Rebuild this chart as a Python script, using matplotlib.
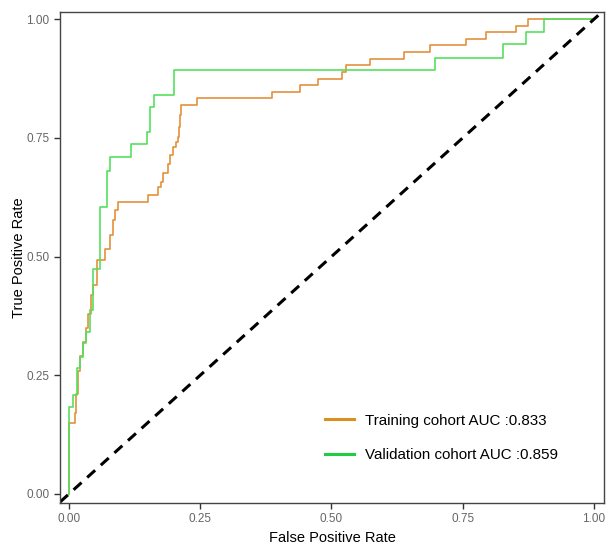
import matplotlib
matplotlib.use("Agg")
import matplotlib.pyplot as plt

plt.rcParams['font.family'] = ['Liberation Sans', 'DejaVu Sans']

# ROC points (false positive rate, true positive rate)
train_fpr = [0, 0, 0.011, 0.014, 0.018, 0.022, 0.027, 0.032, 0.036, 0.042, 0.046, 0.054,
             0.069, 0.078, 0.084, 0.088, 0.094, 0.151, 0.170, 0.175, 0.180, 0.188, 0.193,
             0.199, 0.204, 0.207, 0.210, 0.212, 0.214, 0.244, 0.387, 0.441, 0.475, 0.520,
             0.528, 0.573, 0.639, 0.688, 0.756, 0.794, 0.851, 0.875, 1.0]
train_tpr = [0, 0.15, 0.17, 0.21, 0.26, 0.29, 0.32, 0.35, 0.38, 0.42, 0.44, 0.493,
             0.517, 0.545, 0.577, 0.598, 0.615, 0.629, 0.647, 0.658, 0.675, 0.696, 0.714,
             0.731, 0.742, 0.752, 0.773, 0.798, 0.819, 0.833, 0.847, 0.861, 0.875, 0.889,
             0.903, 0.917, 0.931, 0.945, 0.958, 0.972, 0.986, 1.0, 1.0]

valid_fpr = [0, 0, 0.008, 0.015, 0.022, 0.027, 0.032, 0.040, 0.045, 0.059, 0.072, 0.078,
             0.118, 0.148, 0.155, 0.162, 0.200, 0.698, 0.826, 0.870, 0.905, 1.0]
valid_tpr = [0, 0.184, 0.208, 0.265, 0.289, 0.317, 0.342, 0.387, 0.473, 0.604, 0.681, 0.710,
             0.737, 0.762, 0.815, 0.840, 0.893, 0.919, 0.947, 0.972, 1.0, 1.0]

labels = ['Training cohort AUC :0.833', 'Validation cohort AUC :0.859']
ticks = [0, 0.25, 0.5, 0.75, 1.0]
tick_labels = ['0.00', '0.25', '0.50', '0.75', '1.00']

fig = plt.figure(figsize=(6.14, 5.51), dpi=100)
ax = fig.add_axes([0.0977, 0.0871, 0.886, 0.891])

ax.plot(train_fpr, train_tpr, drawstyle='steps-post', color='#E3913C', lw=1.2, label=labels[0])
ax.plot(valid_fpr, valid_tpr, drawstyle='steps-post', color='#55E05E', lw=1.2, label=labels[1])
ax.axline((0, 0), (1, 1), color='black', lw=2.2, ls=(0, (3.5, 2.5)))

ax.set_xlim(-0.017, 1.019)
ax.set_ylim(-0.019, 1.015)
ax.set_xticks(ticks)
ax.set_xticklabels(tick_labels)
ax.set_yticks(ticks)
ax.set_yticklabels(tick_labels)
ax.tick_params(direction='out', length=4, width=1, color='#333333', labelcolor='#666666', labelsize=8.5)
for s in ax.spines.values():
    s.set_color('#444444')
    s.set_linewidth(1)

ax.set_xlabel('False Positive Rate', fontsize=10.5, labelpad=4)
ax.set_ylabel('True Positive Rate', fontsize=10.5, labelpad=0)

leg = ax.legend(loc='upper left', bbox_to_anchor=(0.487, 0.182), frameon=False,
                fontsize=10.9, handlelength=1.9, handletextpad=0.75, labelspacing=1.35,
                borderpad=0, borderaxespad=0)
leg.get_lines()[0].set_color('#D8901E')
leg.get_lines()[1].set_color('#22CC40')
for ln in leg.get_lines():
    ln.set_linewidth(2.2)

fig.savefig('out.png', dpi=100)
